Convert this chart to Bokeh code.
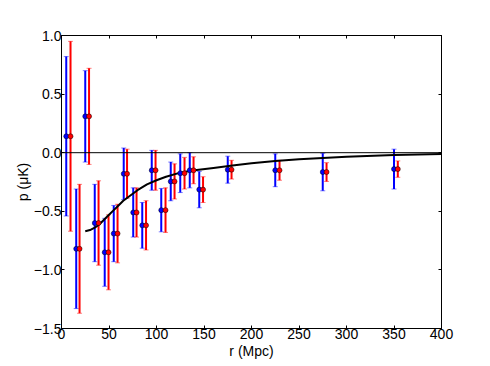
from bokeh.plotting import figure
from bokeh.models import ColumnDataSource, Whisker, TeeHead, Span, LinearAxis, FixedTicker, CustomJSTickFormatter
from bokeh.embed import file_html
from bokeh.resources import INLINE

# ---- data ----
blue_x = [5, 15.5, 25, 35, 45.5, 55, 65.5, 75.5, 85, 95, 105, 115, 125, 135, 145, 175, 225, 275, 350]
blue_y = [0.14, -0.82, 0.31, -0.60, -0.85, -0.69, -0.18, -0.51, -0.62, -0.15, -0.49, -0.245, -0.175,
          -0.15, -0.315, -0.145, -0.15, -0.165, -0.14]
blue_err = [0.68, 0.51, 0.39, 0.33, 0.29, 0.24, 0.22, 0.21, 0.195, 0.17, 0.185, 0.165, 0.165,
            0.15, 0.155, 0.115, 0.14, 0.16, 0.17]

red_x = [9.5, 19, 29, 39, 49.5, 59, 69, 79, 89, 99, 109.5, 119, 129.5, 139, 149, 179, 229.5, 279, 354]
red_y = [0.14, -0.82, 0.31, -0.60, -0.85, -0.69, -0.18, -0.51, -0.62, -0.15, -0.49, -0.245, -0.175,
         -0.15, -0.315, -0.145, -0.15, -0.165, -0.14]
red_err = [0.81, 0.55, 0.41, 0.36, 0.32, 0.25, 0.21, 0.21, 0.21, 0.17, 0.19, 0.15, 0.135,
           0.115, 0.11, 0.08, 0.085, 0.08, 0.07]

model_x = [25, 30, 35, 40, 45, 50, 55, 60, 65, 70, 80, 90, 100, 110, 125, 140, 160, 180, 200,
           225, 250, 275, 300, 350, 400]
model_y = [-0.67, -0.66, -0.64, -0.61, -0.57, -0.53, -0.49, -0.45, -0.41, -0.38, -0.32, -0.27,
           -0.235, -0.205, -0.17, -0.15, -0.13, -0.11, -0.09, -0.07, -0.055, -0.045, -0.035,
           -0.02, -0.012]

x_ticks = [0, 50, 100, 150, 200, 250, 300, 350, 400]
y_ticks = [-1.5, -1.0, -0.5, 0.0, 0.5, 1.0]

FONT = "Liberation Sans"

p = figure(width=482, height=362, x_range=(0, 400), y_range=(-1.5, 1.0),
           output_backend="svg", toolbar_location=None,
           min_border_left=61, min_border_right=41, min_border_top=35, min_border_bottom=34)
p.background_fill_color = "white"
p.border_fill_color = "white"
p.outline_line_color = "black"
p.outline_line_width = 1
p.grid.visible = False

yfmt = CustomJSTickFormatter(code="return (tick < 0 ? '\\u2212' : '') + Math.abs(tick).toFixed(1);")
xfmt = CustomJSTickFormatter(code="return tick.toFixed(0);")
blankfmt = CustomJSTickFormatter(code="return '';")

def style_axis(ax, standoff=0, label_standoff=0):
    ax.major_tick_in = 3
    ax.major_tick_out = 0
    ax.minor_tick_in = 0
    ax.minor_tick_out = 0
    ax.axis_line_color = "black"
    ax.major_tick_line_color = "black"
    ax.major_label_text_font = FONT
    ax.major_label_text_font_size = "14px"
    ax.major_label_text_color = "black"
    ax.major_label_standoff = standoff
    ax.axis_label_text_font = FONT
    ax.axis_label_text_font_size = "14px"
    ax.axis_label_text_font_style = "normal"
    ax.axis_label_text_color = "black"
    ax.axis_label_standoff = label_standoff

p.xaxis.ticker = FixedTicker(ticks=x_ticks)
p.yaxis.ticker = FixedTicker(ticks=y_ticks)
p.xaxis.formatter = xfmt
p.yaxis.formatter = yfmt
p.xaxis.axis_label = "r (Mpc)"
p.yaxis.axis_label = "p (\u03bcK)"
style_axis(p.xaxis[0], standoff=0, label_standoff=1)
style_axis(p.yaxis[0], standoff=0, label_standoff=0)

top = LinearAxis(ticker=FixedTicker(ticks=x_ticks), formatter=blankfmt)
style_axis(top)
p.add_layout(top, "above")
right = LinearAxis(ticker=FixedTicker(ticks=y_ticks), formatter=blankfmt)
style_axis(right)
p.add_layout(right, "right")

p.add_layout(Span(location=0, dimension="width", line_color="black", line_width=1))

def add_series(xs, ys, errs, color):
    src = ColumnDataSource(dict(x=xs, y=ys,
                                lo=[y - e for y, e in zip(ys, errs)],
                                hi=[y + e for y, e in zip(ys, errs)]))
    w = Whisker(source=src, base="x", lower="lo", upper="hi", dimension="height",
                line_color=color, line_width=2,
                upper_head=TeeHead(size=5, line_color=color, line_width=1, line_alpha=0.5),
                lower_head=TeeHead(size=5, line_color=color, line_width=1, line_alpha=0.5))
    p.add_layout(w)
    return src

bsrc = add_series(blue_x, blue_y, blue_err, "#0000ff")
rsrc = add_series(red_x, red_y, red_err, "#ff0000")

p.line(model_x, model_y, line_color="black", line_width=2)

p.scatter("x", "y", source=bsrc, size=5, fill_color="#0000ff", line_color="#000000", line_width=0.5)
p.scatter("x", "y", source=rsrc, size=5, fill_color="#ff0000", line_color="#000000", line_width=0.5)

open("out.html", "w").write(file_html(p, INLINE))
